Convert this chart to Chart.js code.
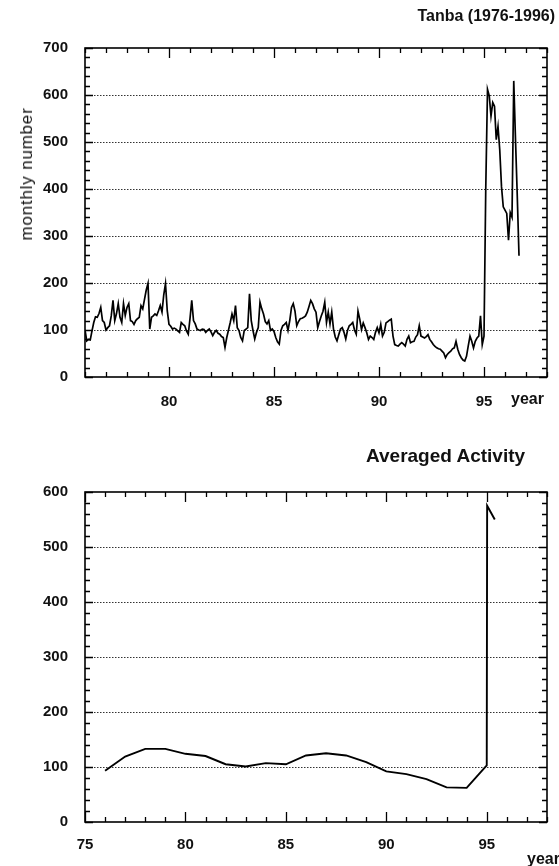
<!DOCTYPE html>
<html>
<head>
<meta charset="utf-8">
<script src="https://cdn.jsdelivr.net/npm/chart.js@4.4.1/dist/chart.umd.min.js"></script>
<style>
  html, body { margin: 0; padding: 0; background: #fff; }
  body { width: 559px; height: 866px; position: relative; overflow: hidden; font-family: "Liberation Sans", Arial, sans-serif; color: #111; }
  .box { position: absolute; left: 0; width: 559px; }
  .txt { position: absolute; white-space: nowrap; font-weight: bold; }
</style>
</head>
<body>
<div class="box" style="top:0;height:420px"><canvas id="monthly" width="559" height="420"></canvas></div>
<div class="box" style="top:430px;height:436px"><canvas id="averaged" width="559" height="436"></canvas></div>

<div class="txt" style="right:4px;top:7px;font-size:16px">Tanba (1976-1996)</div>
<div class="txt" style="left:27px;top:174px;font-size:17px;font-weight:normal;letter-spacing:0.8px;transform:translate(-50%,-50%) rotate(-90deg)">monthly number</div>
<div class="txt" style="left:511px;top:390px;font-size:16px">year</div>
<div class="txt" style="left:366px;top:445px;font-size:19px">Averaged Activity</div>
<div class="txt" style="left:527px;top:850px;font-size:16px">year</div>

<script>
// Monthly event counts, Tanba region, starting January 1976
const monthlyFirstYear = 76;
const monthlyCounts = [
  100, 77, 80, 79, 98, 116, 128, 127, 135, 148, 120, 116,
  100, 105, 109, 130, 163, 120, 135, 156, 127, 116, 156, 131,
  148, 156, 120, 118, 112, 120, 124, 127, 152, 145, 165, 185,
  199, 102, 127, 130, 134, 131, 141, 152, 138, 175, 199, 141,
  112, 108, 102, 104, 102, 98, 95, 116, 112, 109, 98, 91,
  124, 163, 120, 113, 102, 100, 99, 102, 101, 95, 99, 102,
  96, 88, 95, 99, 93, 91, 86, 84, 63, 84, 100, 116,
  134, 120, 152, 105, 99, 84, 77, 99, 102, 105, 177, 120,
  99, 81, 95, 105, 159, 145, 134, 118, 113, 120, 99, 102,
  97, 84, 75, 70, 99, 109, 112, 116, 99, 120, 148, 156,
  140, 109, 118, 124, 125, 127, 130, 138, 150, 163, 156, 145,
  138, 105, 118, 130, 140, 159, 116, 138, 113, 138, 102, 85,
  77, 90, 102, 105, 95, 81, 99, 109, 112, 116, 100, 91,
  140, 123, 101, 115, 105, 94, 80, 87, 84, 80, 95, 105,
  94, 112, 87, 95, 115, 118, 121, 123, 87, 69, 67, 66,
  70, 73, 70, 66, 80, 87, 73, 75, 76, 85, 90, 109,
  87, 85, 83, 86, 90, 80, 75, 69, 65, 62, 60, 59,
  55, 51, 41, 48, 52, 55, 60, 62, 76, 59, 48, 41,
  36, 34, 44, 66, 87, 76, 62, 76, 83, 87, 130, 69,
  87, 400, 612, 598, 555, 584, 576, 505, 533, 483, 405, 362,
  355, 348, 291, 350, 340, 630, 505, 386, 258
];

// Averaged activity (running yearly mean)
const averagedYears  = [76, 77, 78, 79, 80, 81, 82, 83, 84, 85, 86, 87, 88, 89, 90, 91, 92, 93, 94, 95, 95.02, 95.4];
const averagedValues = [93, 119, 133, 133, 124, 120, 105, 101, 107, 105, 121, 125, 121, 109, 92, 87, 78, 63, 62, 103, 575, 550];

// Axis tick labels
const monthlyYearTicks  = [80, 85, 90, 95];
const averagedYearTicks = [75, 80, 85, 90, 95];
const monthlyGridLines  = [100, 200, 300, 400, 500, 600];
const averagedGridLines = [100, 200, 300, 400, 500];

// Frame, inward tick marks and dotted reference lines, placed through the chart scales
const framePlugin = {
  id: 'frame',
  beforeDatasetsDraw(chart, args, opts) {
    const { ctx, chartArea: a, scales: { x, y } } = chart;
    ctx.save();
    ctx.strokeStyle = '#333';
    ctx.lineWidth = 1;
    ctx.setLineDash([1.5, 1.5]);
    opts.grid.forEach(v => {
      const py = Math.round(y.getPixelForValue(v)) + 0.5;
      ctx.beginPath(); ctx.moveTo(a.left, py); ctx.lineTo(a.right, py); ctx.stroke();
    });
    ctx.setLineDash([]);
    ctx.strokeStyle = '#000';
    ctx.lineWidth = 1.3;
    for (let v = y.min; v <= y.max; v += 20) {
      const py = Math.round(y.getPixelForValue(v)) + 0.5;
      const len = v % 100 === 0 ? 8 : 5;
      ctx.beginPath();
      ctx.moveTo(a.left, py); ctx.lineTo(a.left + len, py);
      ctx.moveTo(a.right, py); ctx.lineTo(a.right - len, py);
      ctx.stroke();
    }
    for (let yr = Math.ceil(x.min); yr <= x.max; yr++) {
      const px = Math.round(x.getPixelForValue(yr)) + 0.5;
      const len = yr % 5 === 0 ? 10 : 5;
      ctx.beginPath();
      ctx.moveTo(px, a.bottom); ctx.lineTo(px, a.bottom - len);
      ctx.moveTo(px, a.top); ctx.lineTo(px, a.top + len);
      ctx.stroke();
    }
    ctx.lineWidth = 1.6;
    ctx.strokeRect(a.left, a.top, a.right - a.left, a.bottom - a.top);
    ctx.restore();
  }
};

function makeChart(id, points, cfg) {
  return new Chart(document.getElementById(id), {
    type: 'line',
    data: { datasets: [{ data: points, borderColor: '#000', borderWidth: cfg.lineWidth, pointRadius: 0, tension: 0, fill: false }] },
    options: {
      responsive: false,
      animation: false,
      events: [],
      parsing: false,
      layout: { padding: { left: 0, right: 12, top: cfg.top, bottom: 0 } },
      plugins: { legend: { display: false }, tooltip: { enabled: false }, frame: { grid: cfg.grid } },
      scales: {
        x: {
          type: 'linear', min: cfg.xMin, max: 98,
          grid: { display: false, drawTicks: false }, border: { display: false },
          ticks: { color: '#111', font: { family: 'Liberation Sans', size: 15, weight: 'bold' }, padding: cfg.xPad, maxRotation: 0, autoSkip: false },
          afterBuildTicks: s => { s.ticks = cfg.xTicks.map(v => ({ value: v })); },
          afterFit: s => { s.height = cfg.xHeight; }
        },
        y: {
          min: 0, max: cfg.yMax,
          grid: { display: false, drawTicks: false }, border: { display: false },
          ticks: { stepSize: 100, color: '#111', font: { family: 'Liberation Sans', size: 15, weight: 'bold' }, padding: 17 },
          afterFit: s => { s.width = 85; }
        }
      }
    },
    plugins: [framePlugin]
  });
}

makeChart('monthly',
  monthlyCounts.map((v, i) => ({ x: monthlyFirstYear + i / 12, y: v })),
  { top: 48, xHeight: 43, xMin: 76, yMax: 700, xTicks: monthlyYearTicks, grid: monthlyGridLines, xPad: 16, lineWidth: 1.7 });

makeChart('averaged',
  averagedYears.map((yr, i) => ({ x: yr, y: averagedValues[i] })),
  { top: 62, xHeight: 44, xMin: 75, yMax: 600, xTicks: averagedYearTicks, grid: averagedGridLines, xPad: 14, lineWidth: 1.9 });
</script>
</body>
</html>
